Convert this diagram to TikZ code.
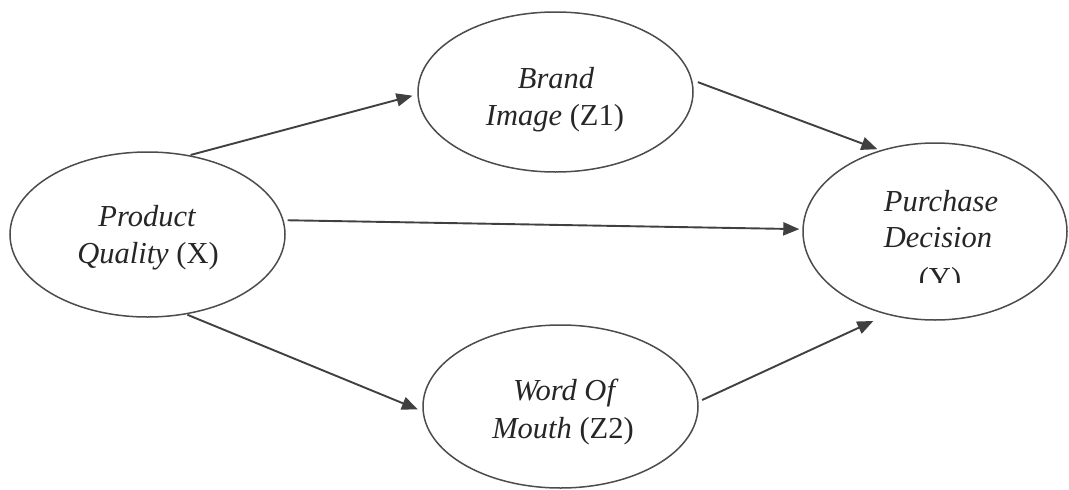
\documentclass[tikz,border=0pt]{standalone}
\usepackage{fontspec}
\setmainfont{Liberation Serif}
\usetikzlibrary{arrows.meta,shapes.geometric}
\begin{document}
\begin{tikzpicture}[x=1pt,y=-1pt,
  var/.style={draw=black!70, line width=1.5pt, ellipse, inner sep=0pt},
  txt/.style={anchor=base, inner sep=0pt, font=\fontsize{30.5}{37}\selectfont, text=black!85},
  link/.style={draw=black!75, line width=1.9pt, -{Triangle[length=16pt,width=13pt]}}
]
\useasboundingbox (0,0) rectangle (1069,490);
\fill[white] (0,0) rectangle (1069,490);

% ellipses
\node[var, minimum width=275pt, minimum height=165pt] (pq)  at (147.5,234.5) {};
\node[var, minimum width=275pt, minimum height=160pt] (bi)  at (555.5,92) {};
\node[var, minimum width=275pt, minimum height=163pt] (wom) at (560.5,406.5) {};
\node[var, minimum width=264pt, minimum height=177pt] (pd)  at (935,231.5) {};

% texts
\node[txt] (pqa) at (147,226) {\itshape Product};
\node[txt] (pqb) at (148,263) {{\itshape Quality} (X)};
\node[txt] (bia) at (556,88) {\itshape Brand};
\node[txt] (bib) at (555,125) {{\itshape Image} (Z1)};
\node[txt] (woma) at (564,400) {\itshape Word Of};
\node[txt] (womb) at (563,438) {{\itshape Mouth} (Z2)};
\node[txt] (pda) at (941,211) {\itshape Purchase};
\node[txt] (pdb) at (938,247) {\itshape Decision};
\begin{scope}
  \clip (880,255) rectangle (1000,282);
  \node[txt] (pdc) at (940,288) {(Y)};
\end{scope}

% connectors
\draw[link, shorten <=1pt, shorten >=5pt] (pq.62) -- (bi.181);
\draw[link, shorten <=6pt, shorten >=3pt] (bi.5) -- (pd.124);
\draw[link, shorten <=4pt, shorten >=3pt] (pq.6) -- (pd.179);
\draw[link, shorten <=1pt, shorten >=5pt] (pq.-64) -- (wom.182);
\draw[link, shorten <=4pt, shorten >=15pt] (wom.2) -- (pd.240);
\end{tikzpicture}
\end{document}
